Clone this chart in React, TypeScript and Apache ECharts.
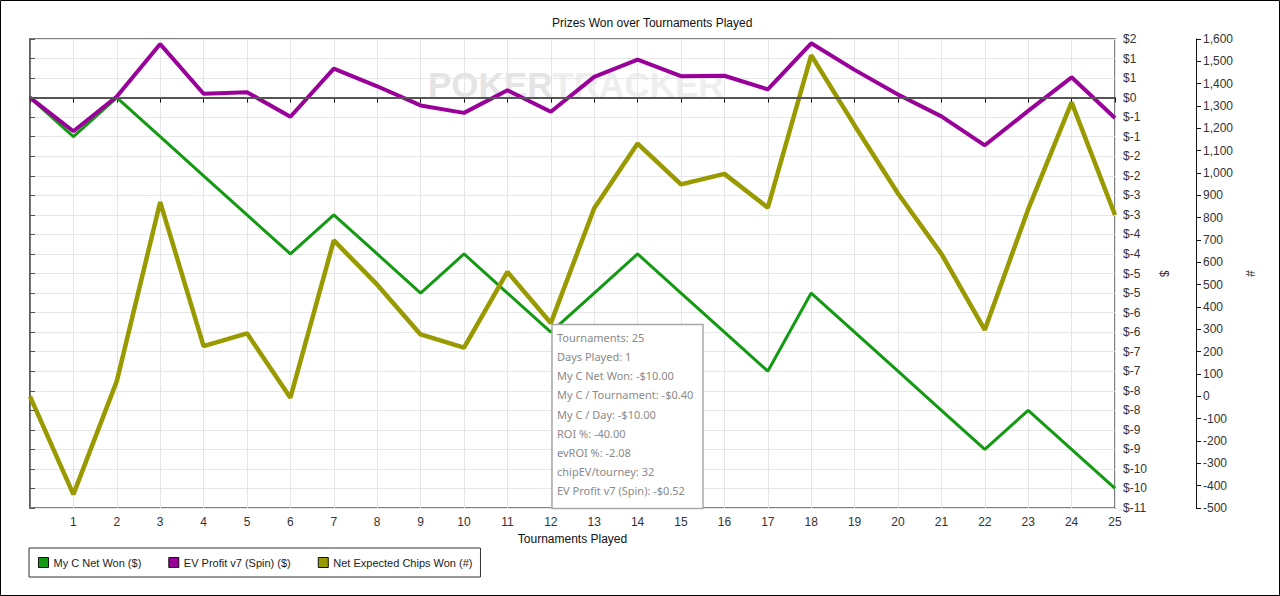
import React, { useEffect, useRef } from "react";
import * as echarts from "echarts";

const tournaments = [0, 1, 2, 3, 4, 5, 6, 7, 8, 9, 10, 11, 12, 13, 14, 15, 16, 17, 18, 19, 20, 21, 22, 23, 24, 25];
const netWon = [0, -1, 0, -1, -2, -3, -4, -3, -4, -5, -4, -5, -6, -5, -4, -5, -6, -7, -5, -6, -7, -8, -9, -8, -9, -10];
const evProfit = [0, -0.86, 0.03, 1.37, 0.1, 0.14, -0.49, 0.74, 0.29, -0.2, -0.39, 0.19, -0.36, 0.53, 0.97, 0.55, 0.56, 0.21, 1.39, 0.71, 0.08, -0.48, -1.22, -0.34, 0.52, -0.52];
const chipsWon = [0, -439, 68, 870, 225, 282, -6, 698, 500, 277, 218, 557, 328, 842, 1132, 949, 996, 845, 1527, 1213, 908, 638, 298, 838, 1316, 812];
const seriesNames = ["My C Net Won ($)", "EV Profit v7 (Spin) ($)", "Net Expected Chips Won (#)"];
const tooltipLines = [
  "Tournaments: 25",
  "Days Played: 1",
  "My C Net Won: -$10.00",
  "My C / Tournament: -$0.40",
  "My C / Day: -$10.00",
  "ROI %: -40.00",
  "evROI %: -2.08",
  "chipEV/tourney: 32",
  "EV Profit v7 (Spin): -$0.52",
];

const FONT = "'Liberation Sans', Arial, sans-serif";

function dollar(v: number): string {
  const r = v < 0 ? -Math.round(-v) : Math.round(v);
  return "$" + (r === 0 ? 0 : r);
}

export default function App() {
  const ref = useRef<HTMLDivElement>(null);
  useEffect(() => {
    document.body.style.margin = "0";
    const chart = echarts.init(ref.current!, null, { renderer: "svg" });
    const pairs = (arr: number[]) => tournaments.map((t, i) => [t, arr[i]]);
    const tipGraphics: any[] = [
      {
        type: "rect",
        shape: { x: 552, y: 324.5, width: 151, height: 184 },
        style: { fill: "#ffffff", stroke: "#a8a8a8", lineWidth: 1.5 },
        z: 100,
      },
      ...tooltipLines.map((t, i) => ({
        type: "text",
        x: 557,
        y: 337.5 + i * 19.15,
        style: {
          text: t,
          fill: "#8a8a8a",
          font: "11px 'Noto Sans', 'Open Sans', sans-serif",
          verticalAlign: "middle",
        },
        z: 101,
      })),
    ];
    chart.setOption({
      animation: false,
      backgroundColor: "#ffffff",
      title: {
        text: "Prizes Won over Tournaments Played",
        left: 547,
        top: 12,
        textStyle: { fontSize: 12, fontWeight: "normal", color: "#111", fontFamily: FONT },
      },
      legend: {
        left: 29,
        top: 548,
        orient: "horizontal",
        padding: [9, 8, 9, 9],
        itemWidth: 10,
        itemHeight: 10,
        itemGap: 27,
        icon: "rect",
        borderColor: "#333",
        borderWidth: 1,
        textStyle: { fontSize: 11, color: "#222", fontFamily: FONT },
        itemStyle: { borderColor: "#111", borderWidth: 1 },
        data: seriesNames,
      },
      grid: {
        left: 30,
        right: 165,
        top: 39,
        bottom: 88,
        show: true,
        borderColor: "#555",
        borderWidth: 1.5,
        containLabel: false,
      },
      xAxis: {
        type: "value",
        min: 0,
        max: 25,
        interval: 1,
        name: "Tournaments Played",
        nameLocation: "middle",
        nameGap: 24,
        nameTextStyle: { fontSize: 12, color: "#111", fontFamily: FONT },
        axisLine: { show: true, lineStyle: { color: "#111", width: 1.5 } },
        axisTick: { show: true, length: 5, lineStyle: { color: "#111" } },
        axisLabel: {
          margin: 8,
          fontSize: 12,
          color: "#333",
          fontFamily: FONT,
          formatter: (v: number) => (v === 0 ? "" : String(v)),
        },
        splitLine: { show: true, lineStyle: { color: "#e6e6e6", width: 1 } },
      },
      yAxis: [
        {
          type: "value",
          position: "right",
          min: -10.5,
          max: 1.5,
          interval: 0.5,
          name: "$",
          nameLocation: "middle",
          nameGap: 37,
          nameRotate: -90,
          nameTextStyle: { fontSize: 12, color: "#333", fontFamily: FONT },
          axisLine: { show: true, lineStyle: { color: "#555", width: 1.5 } },
          axisTick: { show: true, length: 5, lineStyle: { color: "#555" } },
          axisLabel: { margin: 8, fontSize: 12, color: "#333", fontFamily: FONT, formatter: dollar },
          splitLine: { show: true, lineStyle: { color: "#e6e6e6", width: 1 } },
        },
        {
          type: "value",
          position: "right",
          offset: 81,
          min: -500,
          max: 1600,
          interval: 100,
          name: "#",
          nameLocation: "middle",
          nameGap: 41,
          nameRotate: -90,
          nameTextStyle: { fontSize: 12, color: "#333", fontFamily: FONT },
          axisLine: { show: true, lineStyle: { color: "#111", width: 1 } },
          axisTick: { show: true, length: 5, lineStyle: { color: "#111" } },
          axisLabel: {
            margin: 7,
            fontSize: 12,
            color: "#333",
            fontFamily: FONT,
            formatter: (v: number) => v.toLocaleString("en-US"),
          },
          splitLine: { show: false },
        },
      ],
      graphic: [
        {
          type: "text",
          x: 428,
          y: 84,
          z: 0,
          silent: true,
          style: {
            text: "{a|POKER}{b|TRACKER}",
            verticalAlign: "middle",
            rich: {
              a: { fontSize: 35, fontWeight: "bold", fill: "#e4e4e4", fontFamily: FONT },
              b: { fontSize: 35, fontWeight: "bold", fill: "#eeeeee", fontFamily: FONT },
            },
          },
        },
        {
          type: "rect",
          shape: { x: 0.5, y: 0.5, width: 1279, height: 595 },
          style: { fill: "none", stroke: "#000", lineWidth: 1 },
          silent: true,
          z: 200,
        },
        ...tipGraphics,
      ],
      series: [
        {
          name: seriesNames[0],
          type: "line",
          yAxisIndex: 0,
          data: pairs(netWon),
          showSymbol: false,
          symbol: "none",
          color: "#129a12",
          lineStyle: { color: "#129a12", width: 3 },
          markLine: {
            silent: true,
            symbol: "none",
            label: { show: false },
            lineStyle: { color: "#555", width: 2, type: "solid" },
            data: [{ yAxis: 0 }],
          },
        },
        {
          name: seriesNames[1],
          type: "line",
          yAxisIndex: 0,
          data: pairs(evProfit),
          showSymbol: false,
          symbol: "none",
          color: "#990099",
          lineStyle: { color: "#990099", width: 4 },
        },
        {
          name: seriesNames[2],
          type: "line",
          yAxisIndex: 1,
          data: pairs(chipsWon),
          showSymbol: false,
          symbol: "none",
          color: "#999900",
          lineStyle: { color: "#999900", width: 4.5 },
        },
      ],
    });
    return () => chart.dispose();
  }, []);
  return <div ref={ref} style={{ width: 1280, height: 596 }} />;
}
